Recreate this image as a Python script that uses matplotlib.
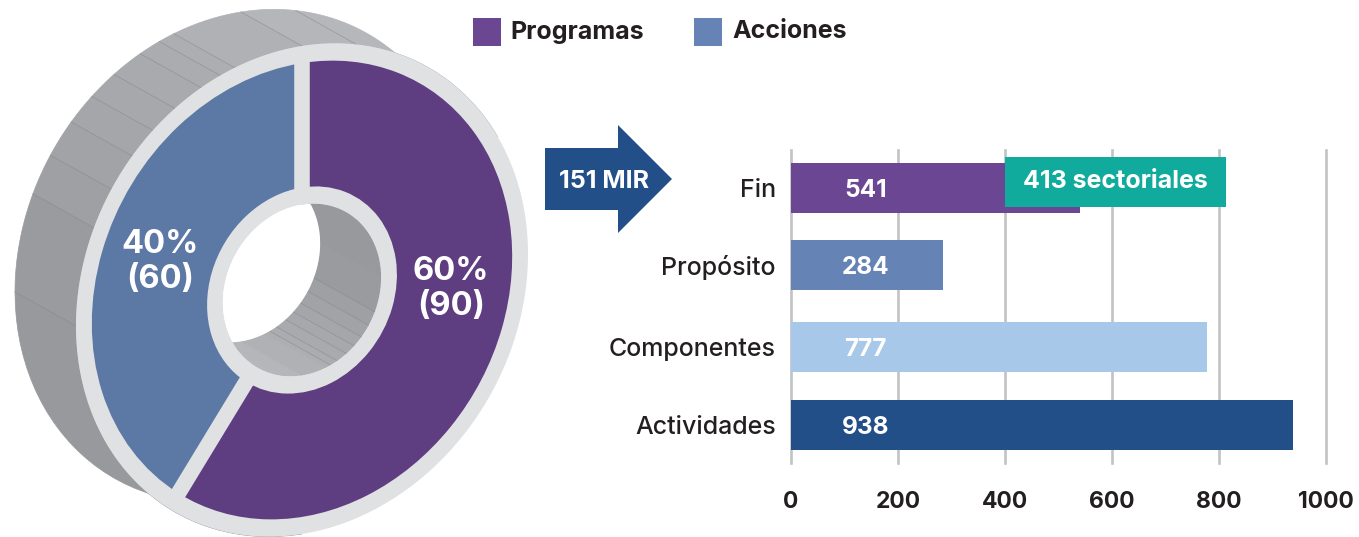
import numpy as np
import matplotlib
matplotlib.use("Agg")
import matplotlib.pyplot as plt
from matplotlib.patches import Polygon, Rectangle
from matplotlib.transforms import Affine2D

plt.rcParams['font.family'] = ['Inter', 'Lato', 'DejaVu Sans']

# donut data
shares = [90, 60]
share_colors = ['#5e3d80', '#5c78a5']
share_labels = ['60%\n(90)', '40%\n(60)']

# legend
legend_names = ['Programas', 'Acciones']
legend_colors = ['#6a4693', '#6583b5']

# bars
categories = ['Fin', 'Propósito', 'Componentes', 'Actividades']
values = [541, 284, 777, 938]
bar_colors = ['#6a4693', '#6583b5', '#a8c8ea', '#234f88']
sectoriales = 413
xticks = [0, 200, 400, 600, 800, 1000]

# facet edges of the 3d wall, in degrees on the front face
wall_edges = [30, 76, 90, 107.3, 111.2, 116.5, 124.2, 131.3, 138.7, 147.5, 157, 180, 270]

W, H = 1359, 537
fig = plt.figure(figsize=(W / 100, H / 100), dpi=100, facecolor='white')

# overlay in pixel units for the donut and the decoration
ov = fig.add_axes([0, 0, 1, 1])

# unit circle -> tilted front face
cx, cy = 302, 290
depth = np.array([-61, -34])
face = np.array([[226, 0], [-36, -244]])
face_tr = Affine2D.from_values(226, -36, 0, -244, cx, cy)


def ring(r, deg, shift=False):
    t = np.radians(np.atleast_1d(deg))
    xy = (face @ np.vstack([np.cos(t), np.sin(t)])).T * r + [cx, cy]
    return xy + depth if shift else xy


def wall_color(mid):
    f = np.interp(mid, [80, 175], [0, 1])
    top = np.array([0xb6, 0xb7, 0xbb]) / 255
    bot = np.array([0x98, 0x99, 0x9d]) / 255
    return tuple(top + (bot - top) * f)


def draw_wall(r, turn, z, line_range, clip=None):
    edges = [e + turn for e in wall_edges]
    for a, b in zip(edges[:-1], edges[1:]):
        arc = np.linspace(a, b, 30)
        pts = np.vstack([ring(r, arc), ring(r, arc[::-1], True)])
        c = wall_color((a + b) / 2 - turn)
        p = Polygon(pts, closed=True, fc=c, ec=c, lw=0.5, zorder=z)
        ov.add_patch(p)
        if clip is not None:
            p.set_clip_path(clip)
    for a in edges[1:-1]:
        if not line_range[0] <= a - turn <= line_range[1]:
            continue
        seg = np.vstack([ring(r, a), ring(r, a, True)])
        ln, = ov.plot(seg[:, 0], seg[:, 1], color='#85868c', lw=0.45, alpha=0.7, zorder=z + 0.01)
        if clip is not None:
            ln.set_clip_path(clip)


# pie first, it resets limits
wedges, _ = ov.pie(shares, colors=share_colors, startangle=90, counterclock=False,
                   radius=0.93, wedgeprops={'width': 0.51, 'linewidth': 0})
ov.set_aspect('auto')
ov.set_xlim(0, W)
ov.set_ylim(H, 0)
ov.axis('off')
for w in wedges:
    w.set_transform(face_tr + ov.transData)
    w.set_zorder(2.5)

all_deg = np.linspace(0, 360, 361)

draw_wall(1.0, 0, 1, (0, 360))
ov.add_patch(Polygon(ring(1.0, all_deg), fc='#e0e1e3', ec='none', zorder=2))

# separators at the slice boundaries
bound = 90 - np.cumsum([0] + shares[:-1]) * 360 / sum(shares)
for a in bound:
    seg = np.vstack([ring(0.40, a), ring(0.95, a)])
    ov.plot(seg[:, 0], seg[:, 1], color='#e0e1e3', lw=11.2, solid_capstyle='butt', zorder=2.6)

# hole with the inner wall showing through
hole = Polygon(ring(0.35, all_deg), fc='white', ec='none', zorder=3)
ov.add_patch(hole)
draw_wall(0.35, 180, 3.1, (110, 160), clip=hole)
back = Polygon(ring(0.35, all_deg, True), fc='white', ec='none', zorder=3.2)
ov.add_patch(back)
back.set_clip_path(hole)

for (x, y), s in zip([(451, 289), (160, 262)], share_labels):
    ov.text(x, y, s, color='white', fontsize=23.5, fontweight='bold', ha='center', va='center',
            linespacing=1.15, zorder=4)

# legend
for x, tx, c, s in zip([473, 694], [510, 732], legend_colors, legend_names):
    ov.add_patch(Rectangle((x, 18), 28, 28, fc=c, ec='none'))
    ov.text(tx, 32, s, fontsize=18, fontweight='bold', color='#231f20', ha='left', va='center')

# arrow
arrow_x = [545, 618, 618, 672, 618, 618, 545]
arrow_y = [148, 148, 125, 179, 233, 210, 210]
ov.add_patch(Polygon(np.column_stack([arrow_x, arrow_y]), fc='#234f88', ec='none'))
ov.text(604, 181, '151 MIR', color='white', fontsize=18, fontweight='bold', ha='center', va='center')

# bars
ax = fig.add_axes([791 / W, 1 - 463 / H, 535 / W, 313 / H])
ax.patch.set_alpha(0)
ypos = np.array([0, 0.975, 2.013, 3])
ax.barh(ypos, values, height=0.633, color=bar_colors, zorder=2)
ax.set_xlim(0, 1000)
ax.set_ylim(3.481, -0.481)
ax.set_yticks(ypos, categories)
ax.set_xticks(xticks)
ax.xaxis.grid(True, color='#c2c3c5', lw=1.9, zorder=0)
ax.set_axisbelow(True)
ax.tick_params(length=0)
ax.tick_params(axis='y', pad=11, labelsize=18, labelcolor='#231f20')
ax.tick_params(axis='x', pad=20, labelsize=16.5)
for t in ax.get_xticklabels():
    t.set_fontweight('bold')
    t.set_color('#231f20')
for t in ax.get_yticklabels():
    t.set_fontweight('medium')
    t.set_y(t.get_position()[1])
for s in ax.spines.values():
    s.set_visible(False)
for g in ax.get_xgridlines():
    g.set_clip_on(False)

for y, v in zip(ypos, values):
    ax.text(139, y + 0.03, str(v), color='white', fontsize=17.5, fontweight='bold', ha='center', va='center', zorder=3)

ax.add_patch(Rectangle((400, -0.39), sectoriales, 0.633, fc='#10ab9c', ec='none', zorder=3))
ax.text(400 + sectoriales / 2, -0.08, f'{sectoriales} sectoriales', color='white', fontsize=18,
        fontweight='bold', ha='center', va='center', zorder=4)

fig.savefig('out.png', dpi=100)
